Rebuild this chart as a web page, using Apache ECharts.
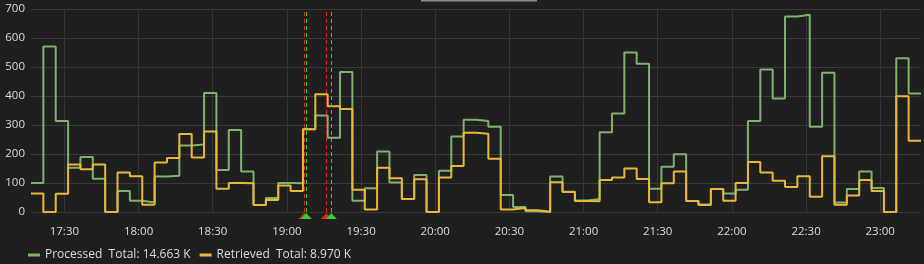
<!DOCTYPE html>
<html>
<head>
<meta charset="utf-8">
<script src="https://cdn.jsdelivr.net/npm/echarts@6/dist/echarts.min.js"></script>
<style>
html,body{margin:0;padding:0;background:#1f1f20;}
#c{width:924px;height:264px;}
</style>
</head>
<body>
<div id="c"></div>
<script>
// ---- data ----
const startMinute = 17 * 60 + 16.5;   // 17:16:30, first 5-minute bucket
const endMinute = 23 * 60 + 16.5;     // 23:16:30, right edge of the view
const bucketMinutes = 5;
const processed = [
  100, 571, 314, 153, 190, 115, 0, 72, 39, 33, 122, 125,
  229, 233, 410, 145, 283, 140, 24, 48, 100, 99, 285, 333,
  256, 483, 39, 82, 209, 102, 45, 128, 0, 142, 260, 318,
  314, 294, 59, 17, 3, 0, 122, 70, 40, 45, 275, 340,
  550, 511, 80, 156, 199, 38, 26, 79, 64, 77, 314, 491,
  391, 674, 680, 294, 480, 33, 79, 140, 83, 0, 530, 409
];
const retrieved = [
  64, 0, 63, 164, 147, 164, 0, 136, 123, 25, 171, 186,
  269, 188, 278, 80, 100, 99, 24, 41, 91, 72, 285, 406,
  365, 355, 77, 9, 153, 116, 45, 113, 0, 119, 159, 273,
  270, 184, 9, 14, 6, 1, 103, 69, 38, 37, 110, 119,
  150, 114, 34, 99, 140, 38, 24, 79, 39, 100, 172, 136,
  108, 86, 123, 53, 192, 25, 57, 110, 72, 0, 399, 246
];
const seriesNames = ['Processed', 'Retrieved'];
const seriesTotals = ['14.663 K', '8.970 K'];
const xTickLabels = ['17:30', '18:00', '18:30', '19:00', '19:30', '20:00', '20:30',
  '21:00', '21:30', '22:00', '22:30', '23:00'];
const yTickLabels = [0, 100, 200, 300, 400, 500, 600, 700];
// annotation markers (time as "HH:MM:SS", colour)
const annotationTimes = ['19:07:00', '19:07:50', '19:16:00', '19:18:00'];
const annotationKinds = ['red', 'green', 'red', 'green'];

// ---- helpers ----
function toMin(s) {
  const p = s.split(':').map(Number);
  return p[0] * 60 + p[1] + (p[2] || 0) / 60;
}
function fmt(m) {
  const h = Math.floor(m / 60), mm = Math.round(m - h * 60);
  return String(h).padStart(2, '0') + ':' + String(mm).padStart(2, '0');
}
function toPoints(values) {
  const pts = values.map((v, i) => [startMinute + i * bucketMinutes, v]);
  // hold the last bucket to the right edge of the view
  pts.push([endMinute, values[values.length - 1]]);
  return pts;
}
const xTickValues = xTickLabels.map(toMin);
const annoColors = { red: '#e8281e', green: '#2fd12f' };

const textColor = '#d8dce2';
const font = 'Open Sans';
const chart = echarts.init(document.getElementById('c'), null, { renderer: 'canvas' });

chart.setOption({
  backgroundColor: '#1f1f20',
  animation: false,
  textStyle: { fontFamily: font },
  grid: { left: 31, right: 3, top: 9, bottom: 52, containLabel: false },
  legend: {
    data: seriesNames,
    left: 28,
    top: 249,
    padding: 0,
    itemGap: 9,
    itemWidth: 12,
    itemHeight: 3,
    icon: 'rect',
    textStyle: { color: textColor, fontSize: 12, fontFamily: font },
    formatter: function (name) {
      return name + '  Total: ' + seriesTotals[seriesNames.indexOf(name)];
    }
  },
  xAxis: {
    type: 'value',
    min: startMinute,
    max: endMinute,
    axisLine: { show: false },
    axisTick: { show: false, customValues: xTickValues },
    axisLabel: {
      customValues: xTickValues,
      formatter: fmt,
      color: textColor,
      fontSize: 11.5,
      fontFamily: font,
      margin: 14
    },
    splitLine: { show: true, lineStyle: { color: '#363636', width: 1 } }
  },
  yAxis: {
    type: 'value',
    min: yTickLabels[0],
    max: yTickLabels[yTickLabels.length - 1],
    interval: yTickLabels[1] - yTickLabels[0],
    axisLine: { show: false },
    axisTick: { show: false },
    axisLabel: { color: textColor, fontSize: 11.5, fontFamily: font, margin: 6 },
    splitLine: { show: true, lineStyle: { color: '#3a3a3a', width: 1 } }
  },
  graphic: [
    { type: 'rect', shape: { x: 421, y: 0, width: 116, height: 1.5 }, style: { fill: '#8c8c8c' }, silent: true }
  ],
  series: [
    {
      name: seriesNames[0],
      type: 'line',
      step: 'end',
      data: toPoints(processed),
      showSymbol: false,
      color: '#7eb26d',
      lineStyle: { width: 2, color: '#7eb26d' },
      z: 2
    },
    {
      name: seriesNames[1],
      type: 'line',
      step: 'end',
      data: toPoints(retrieved),
      showSymbol: false,
      color: '#eab839',
      lineStyle: { width: 2, color: '#eab839' },
      z: 3
    },
    {
      name: 'annotations',
      type: 'line',
      data: [],
      z: 4,
      markLine: {
        silent: true,
        symbol: 'none',
        label: { show: false },
        animation: false,
        data: annotationTimes.map((t, i) => ({
          xAxis: toMin(t),
          lineStyle: { color: annoColors[annotationKinds[i]], type: [4, 3], width: 1 }
        }))
      },
      markPoint: {
        silent: true,
        symbol: 'triangle',
        symbolSize: [11, 6],
        symbolOffset: [0, 4],
        label: { show: false },
        animation: false,
        data: annotationTimes.map((t, i) => ({
          coord: [toMin(t), 0],
          itemStyle: { color: annoColors[annotationKinds[i]] }
        }))
      }
    }
  ]
});
</script>
</body>
</html>
